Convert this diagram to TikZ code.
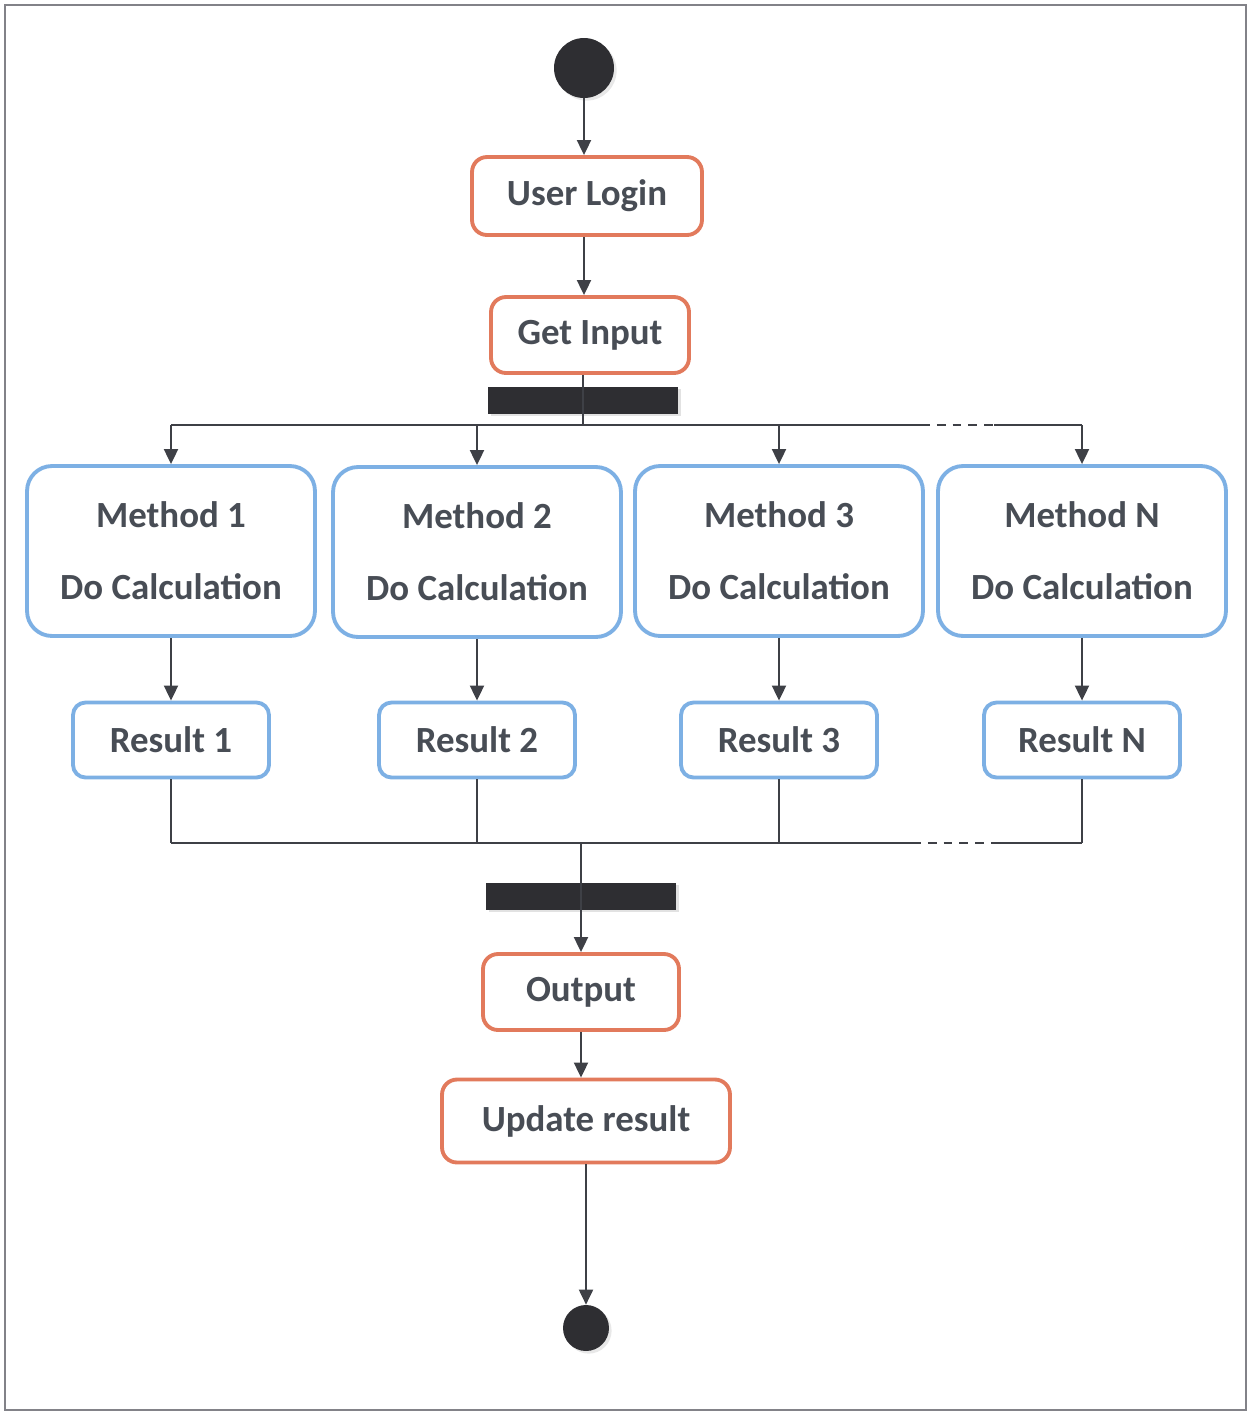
\documentclass[tikz,border=0pt]{standalone}
\usepackage{fontspec}
\setmainfont{Carlito}
\usetikzlibrary{arrows.meta,positioning,calc,shadows}

\definecolor{actorange}{RGB}{226,122,92}
\definecolor{methblue}{RGB}{125,176,228}
\definecolor{txtgray}{RGB}{72,77,85}
\definecolor{linegray}{RGB}{62,64,70}
\definecolor{bardark}{RGB}{46,46,50}
\definecolor{framegray}{RGB}{130,130,136}

\begin{document}
\begin{tikzpicture}[
    x=0.02cm, y=-0.02cm,
    action/.style={rectangle, draw=actorange, line width=2.2pt, rounded corners=0.3cm, fill=white, text=txtgray, font=\fontsize{21}{25}\selectfont\bfseries, inner sep=0pt},
    method/.style={rectangle, draw=methblue, line width=2.2pt, rounded corners=0.5cm, fill=white, text=txtgray, font=\fontsize{21}{41}\selectfont\bfseries, align=center, minimum width=5.76cm, minimum height=3.4cm, inner sep=0pt},
    result/.style={rectangle, draw=methblue, line width=2.2pt, rounded corners=0.25cm, fill=white, text=txtgray, font=\fontsize{21}{25}\selectfont\bfseries, minimum width=3.92cm, minimum height=1.5cm, inner sep=0pt},
    syncbar/.style={rectangle, fill=bardark, minimum width=3.8cm, minimum height=0.54cm, inner sep=0pt, drop shadow={shadow xshift=1.5pt, shadow yshift=-1.5pt, fill=gray!45}},
    dot/.style={circle, fill=bardark, inner sep=0pt, drop shadow={shadow xshift=1.5pt, shadow yshift=-1.5pt, fill=gray!35}},
    arrow/.style={-{Triangle[length=0.3cm, width=0.28cm]}, line width=1.1pt, draw=linegray},
    line/.style={line width=1.1pt, draw=linegray}
]
\useasboundingbox (0,0) rectangle (1252,1414);
\draw[framegray, line width=1.2pt] (5,5) rectangle (1246,1410);

% Start and preparation
\node[dot, minimum size=1.2cm] (start) at (584,68) {};
\node[action, minimum width=4.6cm, minimum height=1.56cm] (login) at (587,196) {User Login};
\node[action, minimum width=3.96cm, minimum height=1.52cm] (input) at (590,335) {Get Input};
\node[syncbar] (fork) at (583,400) {};
\coordinate (fk) at (583,425);

% Methods
\node[method] (m1) at (171,551) {Method 1\\Do Calculation};
\node[method] (m2) at (477,552) {Method 2\\Do Calculation};
\node[method] (m3) at (779,551) {Method 3\\Do Calculation};
\node[method] (mN) at (1082,551) {Method N\\Do Calculation};

% Results
\node[result] (r1) at (171,740) {Result 1};
\node[result] (r2) at (477,740) {Result 2};
\node[result] (r3) at (779,740) {Result 3};
\node[result] (rN) at (1082,740) {Result N};

% Join and finish
\coordinate (jn) at (581,843);
\node[syncbar] (join) at (581,896) {};
\node[action, minimum width=3.92cm, minimum height=1.52cm] (output) at (581,992) {Output};
\node[action, minimum width=5.76cm, minimum height=1.66cm] (update) at (586,1121) {Update result};
\node[dot, minimum size=0.92cm] (end) at (586,1328) {};

% dashed gaps
\coordinate (dash1) at (921,425);
\coordinate (dash2) at (994,425);
\coordinate (dash3) at (912,843);
\coordinate (dash4) at (995,843);

% Arrows
\draw[arrow] (start.south) -- (start.south |- login.north);
\draw[arrow] (start.south |- login.south) -- (start.south |- input.north);
\draw[line] (fork.center |- input.south) -- (fk);
\draw[line] (m1.north |- fk) -- (dash1);
\draw[line, dashed, dash pattern=on 5pt off 4pt] (dash1) -- (dash2);
\draw[line] (dash2) -- (mN.north |- fk);
\foreach \m/\r in {m1/r1, m2/r2, m3/r3, mN/rN} {
  \draw[arrow] (\m.north |- fk) -- (\m.north);
  \draw[arrow] (\m.south) -- (\r.north);
  \draw[line] (\r.south) -- (\r.south |- jn);
}
\draw[line] (r1.south |- jn) -- (dash3);
\draw[line, dashed, dash pattern=on 5pt off 4pt] (dash3) -- (dash4);
\draw[line] (dash4) -- (rN.south |- jn);
\draw[arrow] (jn) -- (output.north);
\draw[arrow] (jn |- output.south) -- (jn |- update.north);
\draw[arrow] (update.south) -- (end.north);
\end{tikzpicture}
\end{document}
